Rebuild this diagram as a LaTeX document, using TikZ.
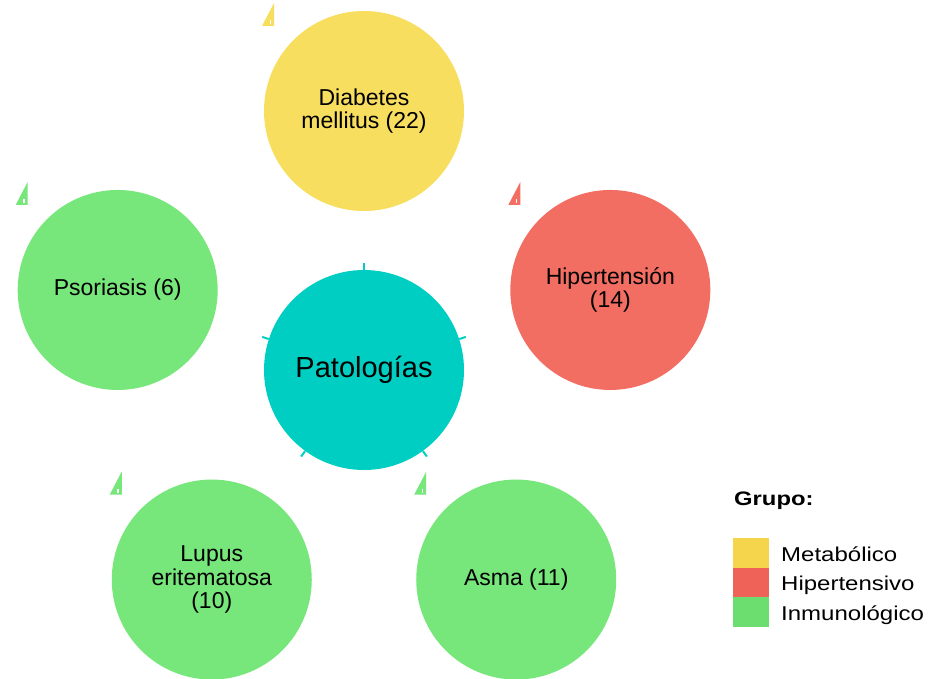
\documentclass[tikz,border=0pt]{standalone}
\usepackage{fontspec}
\setmainfont{Liberation Sans}
\usetikzlibrary{calc}
\definecolor{hubteal}{HTML}{00CEC2}
\definecolor{metyel}{HTML}{F8DE5F}
\definecolor{hipred}{HTML}{F26E62}
\definecolor{inmgrn}{HTML}{77E67B}
\definecolor{keyyel}{HTML}{F4D54C}
\definecolor{keyred}{HTML}{EE6257}
\definecolor{keygrn}{HTML}{6CDE6F}
\begin{document}
\begin{tikzpicture}[x=1pt,y=1pt,
  bubble/.style={circle, minimum size=200pt, inner sep=0pt, draw=none,
    text=black, align=center, font=\fontsize{23}{23.5}\selectfont},
  tickline/.style={draw=hubteal, line width=2pt},
  swatch/.style={rectangle, minimum width=36pt, minimum height=30pt,
    inner sep=0pt, draw=none},
  keytext/.style={anchor=base west, inner sep=0pt,
    font=\fontsize{20}{20}\selectfont},
  tabflag/.pic={
    \fill[#1] (-102,85) -- (-90,85) -- (-90,108) -- cycle;
    \fill[white] (-94.5,87) rectangle (-93,91);
  }]
\useasboundingbox (0,0) rectangle (952,678);

% central hub
\node[bubble, fill=hubteal, font=\fontsize{29}{30}\selectfont] (pat) at (364,308) {Patologías};

% surrounding groups
\path (pat.center) ++(90:259)  node[bubble, fill=metyel] (dia) {Diabetes\\mellitus (22)};
\path (pat.center) ++(18:259)  node[bubble, fill=hipred] (hip) {Hipertensión\\(14)};
\path (pat.center) ++(162:259) node[bubble, fill=inmgrn] (pso) {Psoriasis (6)};
\path (pat.center) ++(234:259) node[bubble, fill=inmgrn] (lup) {Lupus\\eritematosa\\(10)};
\path (pat.center) ++(306:259) node[bubble, fill=inmgrn] (asm) {Asma (11)};

% small tab marks at the upper left of each group
\path (dia.center) pic {tabflag=metyel};
\path (hip.center) pic {tabflag=hipred};
\path (pso.center) pic {tabflag=inmgrn};
\path (lup.center) pic {tabflag=inmgrn};
\path (asm.center) pic {tabflag=inmgrn};

% stubs on the hub pointing to each group
\foreach \a in {90,18,162,234,306} {
  \coordinate (t\a) at ($(pat.center)+(\a:107)$);
  \draw[tickline] (pat.\a) -- (t\a);
}

% legend
\node[anchor=base west, inner sep=0pt, font=\bfseries\fontsize{19.5}{20}\selectfont]
  (grp) at (734,173) {\scalebox{1.22}[1]{Grupo:}};
\node[swatch, fill=keyyel] (k1) at (751,125) {};
\node[swatch, fill=keyred] (k2) at (751,95.5) {};
\node[swatch, fill=keygrn] (k3) at (751,66) {};
\node[keytext] (l1) at (781,116.3) {\scalebox{1.2}[1]{Metabólico}};
\node[keytext] (l2) at (781,88) {\scalebox{1.2}[1]{Hipertensivo}};
\node[keytext] (l3) at (781,58) {\scalebox{1.2}[1]{Inmunológico}};
\end{tikzpicture}
\end{document}
